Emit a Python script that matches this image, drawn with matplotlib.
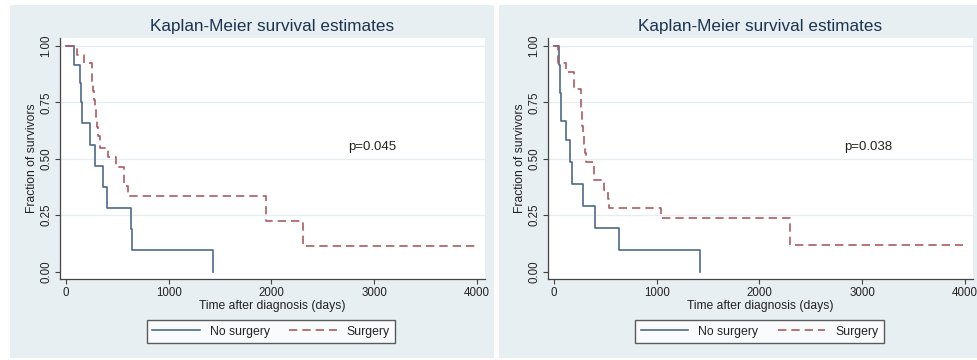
import matplotlib
matplotlib.use("Agg")
import matplotlib.pyplot as plt
from matplotlib.patches import Rectangle
from matplotlib.lines import Line2D

plt.rcParams['font.family'] = ['Liberation Sans', 'DejaVu Sans']

# ---- data ----
title = "Kaplan-Meier survival estimates"
xlabel = "Time after diagnosis (days)"
ylabel = "Fraction of survivors"
series_names = ["No surgery", "Surgery"]
x_ticks = [0, 1000, 2000, 3000, 4000]
y_ticks = [0.0, 0.25, 0.5, 0.75, 1.0]
y_ticklabels = ["0.00", "0.25", "0.50", "0.75", "1.00"]

# Left panel
left_nosurg_t = [0, 75, 133, 146, 156, 230, 279, 360, 399, 633, 645, 1427]
left_nosurg_s = [1.0, 0.917, 0.835, 0.75, 0.657, 0.561, 0.468, 0.377, 0.282, 0.188, 0.094, 0.0]
left_surg_t = [0, 107, 178, 253, 258, 263, 269, 285, 292, 300, 308, 334, 409, 490, 561, 600, 1946, 2303, 3984]
left_surg_s = [1.0, 0.96, 0.923, 0.88, 0.84, 0.80, 0.76, 0.72, 0.68, 0.64, 0.60, 0.547, 0.507, 0.465, 0.38, 0.337, 0.225, 0.112, 0.112]
left_p = "p=0.045"

# Right panel
right_nosurg_t = [0, 52, 62, 70, 120, 156, 175, 279, 399, 636, 1425]
right_nosurg_s = [1.0, 0.917, 0.79, 0.667, 0.583, 0.486, 0.39, 0.291, 0.195, 0.098, 0.0]
right_surg_t = [0, 39, 113, 195, 263, 267, 270, 274, 280, 290, 300, 312, 386, 490, 522, 539, 1040, 2295, 3977]
right_surg_s = [1.0, 0.923, 0.885, 0.808, 0.768, 0.728, 0.687, 0.647, 0.606, 0.566, 0.525, 0.484, 0.405, 0.362, 0.32, 0.284, 0.236, 0.118, 0.118]
right_p = "p=0.038"

# ---- style ----
W, H = 978, 360
bg = '#e8eff2'
c_ns = '#4d6a8a'
c_s = '#ad5c60'
txt = '#222222'
title_c = '#1c3350'

fig = plt.figure(figsize=(W / 100, H / 100), dpi=100)
fig.patch.set_facecolor('white')

def fx(px):
    return px / W

def fy(py):
    return 1 - py / H

# panel backgrounds
for x0, x1 in [(10, 494), (499, 978)]:
    fig.add_artist(Rectangle((fx(x0), fy(358)), fx(x1 - x0), (358 - 5) / H,
                             transform=fig.transFigure, facecolor=bg,
                             edgecolor='none', zorder=-10))

panels = [
    dict(ax_left=60, title_x=272, leg_x=271, ns=(left_nosurg_t, left_nosurg_s),
         s=(left_surg_t, left_surg_s), p=left_p, p_x=2747),
    dict(ax_left=548, title_x=760, leg_x=759.5, ns=(right_nosurg_t, right_nosurg_s),
         s=(right_surg_t, right_surg_s), p=right_p, p_x=2825),
]

for pnl in panels:
    ax = fig.add_axes([fx(pnl['ax_left']), fy(279.3), fx(425), 241.6 / H])
    ax.set_zorder(5)
    ax.set_facecolor('white')
    ax.set_xlim(-58, 4078)
    ax.set_ylim(-0.034, 1.037)
    for yv in y_ticks[1:]:
        ax.axhline(yv, color='#e6edf0', lw=0.9, zorder=1)
    t, s = pnl['ns']
    ax.plot(t, s, drawstyle='steps-post', color=c_ns, lw=1.2, zorder=3)
    t, s = pnl['s']
    ax.plot(t, s, drawstyle='steps-post', color=c_s, lw=1.2, ls=(0, (5, 3)), zorder=3)
    ax.text(pnl['p_x'], 0.554, pnl['p'], fontsize=9.5, color=txt, va='center', ha='left')

    for sp in ['top', 'right']:
        ax.spines[sp].set_visible(False)
    for sp in ['left', 'bottom']:
        ax.spines[sp].set_color('#444444')
        ax.spines[sp].set_linewidth(0.9)
    ax.set_xticks(x_ticks)
    ax.set_xticklabels([str(v) for v in x_ticks])
    ax.set_yticks(y_ticks)
    ax.set_yticklabels(y_ticklabels, rotation=90, va='center')
    ax.tick_params(direction='out', length=3.5, width=0.8, color='#444444',
                   labelsize=8.3, labelcolor=txt, pad=2)
    ax.set_xlabel(xlabel, fontsize=8.7, color=txt, labelpad=1)
    ax.set_ylabel(ylabel, fontsize=8.7, color=txt, labelpad=2)

    fig.text(fx(pnl['title_x']), fy(26.7), title, fontsize=12.3, color=title_c,
             ha='center', va='center')

    handles = [Line2D([], [], color=c_ns, lw=1.2),
               Line2D([], [], color=c_s, lw=1.2, ls=(0, (5, 3)))]
    leg = fig.legend(handles, series_names, loc='center',
                     bbox_to_anchor=(fx(pnl['leg_x']), fy(331.5)), ncol=2,
                     frameon=True, fancybox=False, fontsize=8.8, handlelength=3.9,
                     columnspacing=1.6, handletextpad=0.8, borderpad=0.45,
                     labelcolor=txt)
    leg.get_frame().set_edgecolor('#333333')
    leg.get_frame().set_linewidth(1.0)
    leg.get_frame().set_facecolor('white')

fig.savefig('out.png', dpi=100, facecolor=fig.get_facecolor())
